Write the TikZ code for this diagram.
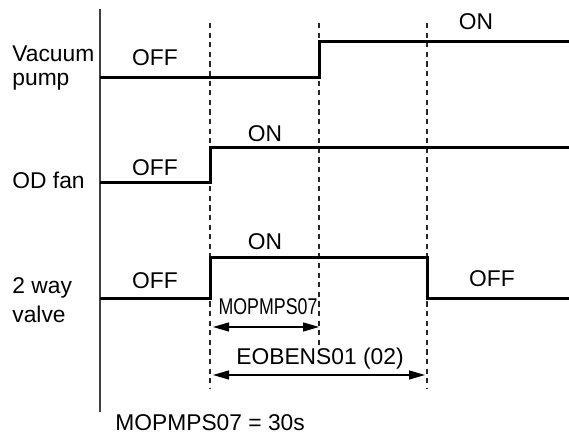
\documentclass[tikz,border=0pt]{standalone}
\usepackage{fontspec}
\setmainfont{Liberation Sans}
\usetikzlibrary{arrows.meta,positioning}

\begin{document}
\begin{tikzpicture}[
    x=0.5pt, y=-0.5pt,
    txt/.style={font=\fontsize{11.4}{12}\selectfont, inner sep=0pt},
    signame/.style={txt, align=left, anchor=north west},
    sig/.style={line width=1.5pt, line join=miter},
    axisline/.style={line width=0.75pt, black!75},
    tmark/.style={line width=0.6pt, black!85, dash pattern=on 2.6pt off 2.2pt},
    arr/.style={<->, >={Triangle[length=8pt, width=4.5pt]}, line width=0.6pt}
]
  \useasboundingbox (0,0) rectangle (569,437);

  % time axis and switching instants
  \draw[axisline] (100,9) -- (100,412);
  \draw[tmark] (210,23) -- (210,388);
  \draw[tmark] (319,23) -- (319,345);
  \draw[tmark] (427,23) -- (427,388);

  % signal names
  \node[signame] (vac)   at (12,45)  {Vacuum\\pump};
  \node[txt, anchor=base west] (odfan) at (12,189) {OD fan};
  \node[signame] (valve) at (12,277) {2 way\\[2.5pt]valve};

  % waveforms
  \draw[sig] (100,78)  -- (319,78)  -- (319,42)  -- (569,42);
  \draw[sig] (100,183) -- (210,183) -- (210,148) -- (569,148);
  \draw[sig] (100,299) -- (210,299) -- (210,258) -- (427,258) -- (427,299) -- (569,299);

  % states
  \node[txt, anchor=base] (vacoff)  at (155,66)  {OFF};
  \node[txt, anchor=base] (vacon)   at (476,30)  {ON};
  \node[txt, anchor=base] (fanoff)  at (155,176) {OFF};
  \node[txt, anchor=base] (fanon)   at (265,142) {ON};
  \node[txt, anchor=base] (valoff)  at (155,289) {OFF};
  \node[txt, anchor=base] (valon)   at (265,250) {ON};
  \node[txt, anchor=base] (valoff2) at (492,287) {OFF};

  % delays
  \coordinate (m0) at (213,327);
  \coordinate (m1) at (319,327);
  \coordinate (e0) at (213,375);
  \coordinate (e1) at (425,375);
  \draw[arr] (m0) -- (m1);
  \draw[arr] (e0) -- (e1);
  \node[txt, anchor=base] (mop) at (268,315) {\scalebox{0.78}[1]{MOPMPS07}};
  \node[txt, anchor=base] (eob) at (320,365) {EOBENS01 (02)};

  \node[txt, anchor=base west] (note) at (115,431) {MOPMPS07 = 30s};
\end{tikzpicture}
\end{document}
